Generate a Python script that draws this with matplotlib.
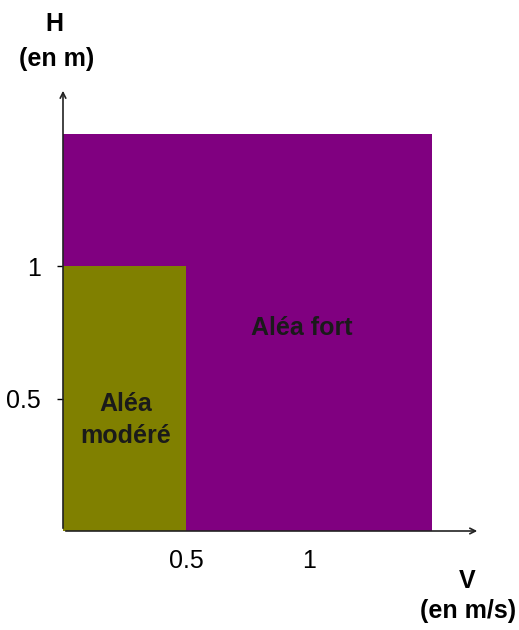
import matplotlib
import matplotlib.pyplot as plt
from matplotlib.patches import Rectangle

matplotlib.use('Agg')
plt.rcParams['font.family'] = ['Liberation Sans', 'DejaVu Sans']

# zones: (label, V max, H max, colour)
zone_names = ["Aléa fort", "Aléa\nmodéré"]
zone_v = [1.5, 0.5]
zone_h = [1.5, 1.0]
zone_colors = ["#800080", "#808000"]
label_pos = [(0.97, 0.765), (0.256, 0.42)]

x_ticks = [0.5, 1]
x_tick_labels = ["0.5", "1"]
y_ticks = [0.5, 1]
y_tick_labels = ["0.5", "1"]

fig = plt.figure(figsize=(5.19, 6.30), dpi=100)
ax = fig.add_axes([63 / 519, 99 / 630, 417 / 519, 443 / 630])
ax.set_xlim(0, 1.695)
ax.set_ylim(0, 1.672)

# draw the zones, largest first
for name, v, h, c, (tx, ty) in zip(zone_names, zone_v, zone_h, zone_colors, label_pos):
    ax.add_patch(Rectangle((0, 0), v, h, facecolor=c, edgecolor='none'))
    ax.text(tx, ty, name, ha='center', va='center', fontsize=18,
            fontweight='bold', color='#1a1a1a', linespacing=1.4)

for s in ax.spines.values():
    s.set_visible(False)

# axes as arrows
ax.annotate("", xy=(1, 0), xytext=(0, 0), xycoords='axes fraction',
            arrowprops=dict(arrowstyle='->', color='#222222', lw=1.2))
ax.annotate("", xy=(0, 1), xytext=(0, 0), xycoords='axes fraction',
            arrowprops=dict(arrowstyle='->', color='#222222', lw=1.2))

ax.set_xticks(x_ticks, x_tick_labels)
ax.set_yticks(y_ticks, y_tick_labels)
ax.tick_params(axis='x', length=0, pad=13, labelsize=18)
ax.tick_params(axis='y', length=4, width=1, pad=12, labelsize=18)

fig.text(54 / 519, 1 - 24 / 630, "H", ha='center', va='center', fontsize=18, fontweight='bold')
fig.text(57 / 519, 1 - 59 / 630, "(en m)", ha='center', va='center', fontsize=18, fontweight='bold')
fig.text(467 / 519, 1 - 581 / 630, "V", ha='center', va='center', fontsize=18, fontweight='bold')
fig.text(468 / 519, 1 - 611 / 630, "(en m/s)", ha='center', va='center', fontsize=18, fontweight='bold')

fig.savefig('out.png', dpi=100)
